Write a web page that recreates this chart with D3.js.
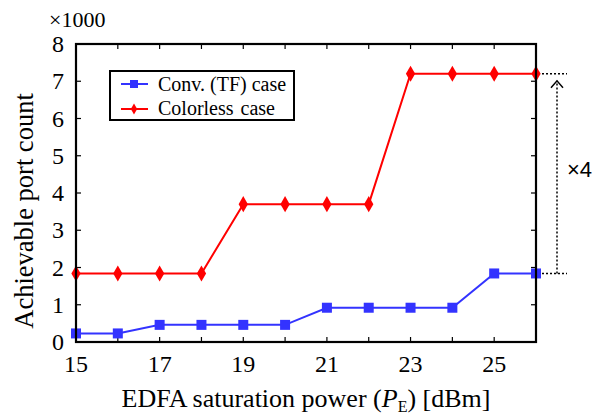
<!DOCTYPE html>
<html>
<head>
<meta charset="utf-8">
<script src="https://cdn.jsdelivr.net/npm/d3@7"></script>
<style>
  body { margin: 0; background: #fff; }
</style>
</head>
<body>
<svg width="597" height="415"></svg>
<script>
const power = [15, 16, 17, 18, 19, 20, 21, 22, 23, 24, 25, 26];
const convTF = [0.23, 0.23, 0.46, 0.46, 0.46, 0.46, 0.92, 0.92, 0.92, 0.92, 1.84, 1.84];
const colorless = [1.84, 1.84, 1.84, 1.84, 3.7, 3.7, 3.7, 3.7, 7.2, 7.2, 7.2, 7.2];
const xTickLabels = [15, 17, 19, 21, 23, 25];
const yTickLabels = [0, 1, 2, 3, 4, 5, 6, 7, 8];

const serif = "'Liberation Serif', 'Times New Roman', Times, serif";
const svg = d3.select("svg").attr("font-family", serif).style("font-family", serif);
const pLeft = 76, pRight = 536, pTop = 44, pBottom = 342;

const x = d3.scaleLinear().domain([15, 26]).range([pLeft, pRight]);
const y = d3.scaleLinear().domain([0, 8]).range([pBottom, pTop]);

// inward ticks on all four sides
const ticks = svg.append("g").attr("stroke", "#000").attr("stroke-width", 1.2);
power.forEach(p => {
  ticks.append("line").attr("x1", x(p)).attr("x2", x(p)).attr("y1", pBottom).attr("y2", pBottom - 5);
  ticks.append("line").attr("x1", x(p)).attr("x2", x(p)).attr("y1", pTop).attr("y2", pTop + 5);
});
yTickLabels.forEach(v => {
  ticks.append("line").attr("x1", pLeft).attr("x2", pLeft + 5).attr("y1", y(v)).attr("y2", y(v));
  ticks.append("line").attr("x1", pRight).attr("x2", pRight - 5).attr("y1", y(v)).attr("y2", y(v));
});

// tick labels
svg.append("g").selectAll("text")
    .data(xTickLabels)
    .enter().append("text")
    .attr("x", d => x(d))
    .attr("y", 372)
    .attr("text-anchor", "middle")
    .style("font-size", "24px")
    .text(d => d);

svg.append("g").selectAll("text")
    .data(yTickLabels)
    .enter().append("text")
    .attr("x", 64)
    .attr("y", d => y(d) + 8)
    .attr("text-anchor", "end")
    .style("font-size", "24px")
    .text(d => d);

svg.append("text")
    .attr("x", 49).attr("y", 27)
    .style("font-size", "22px")
    .text("×1000");

// lines and markers
const line = d3.line().x((d, i) => x(power[i])).y(d => y(d));

svg.append("path").datum(convTF)
    .attr("d", line).attr("fill", "none")
    .attr("stroke", "#3333ff").attr("stroke-width", 2);
svg.append("path").datum(colorless)
    .attr("d", line).attr("fill", "none")
    .attr("stroke", "#ff0000").attr("stroke-width", 2);

svg.append("g").selectAll("rect")
    .data(convTF)
    .enter().append("rect")
    .attr("x", (d, i) => x(power[i]) - 5)
    .attr("y", d => y(d) - 5)
    .attr("width", 10).attr("height", 10)
    .attr("fill", "#3333ff");

const diamond = d3.symbol().type(d3.symbolDiamond).size(75);
svg.append("g").selectAll("path")
    .data(colorless)
    .enter().append("path")
    .attr("d", diamond)
    .attr("transform", (d, i) => `translate(${x(power[i])},${y(d)})`)
    .attr("fill", "#ff0000");

// frame
svg.append("rect")
    .attr("x", pLeft).attr("y", pTop)
    .attr("width", pRight - pLeft).attr("height", pBottom - pTop)
    .attr("fill", "none").attr("stroke", "#000").attr("stroke-width", 2.2);

// axis titles
const xTitle = svg.append("text")
    .attr("x", 306).attr("y", 407)
    .attr("text-anchor", "middle")
    .style("font-size", "26px");
xTitle.append("tspan").text("EDFA saturation power (");
xTitle.append("tspan").style("font-style", "italic").text("P");
xTitle.append("tspan").attr("dy", 5).style("font-size", "16px").text("E");
xTitle.append("tspan").attr("dy", -5).text(") [dBm]");

svg.append("text")
    .attr("transform", "translate(33,211) rotate(-90)")
    .attr("text-anchor", "middle")
    .style("font-size", "26.5px")
    .text("Achievable port count");

// legend
const legend = svg.append("g");
legend.append("rect")
    .attr("x", 110).attr("y", 71).attr("width", 184).attr("height", 49)
    .attr("fill", "#fff").attr("stroke", "#000").attr("stroke-width", 2);
legend.append("line").attr("x1", 121).attr("x2", 148).attr("y1", 84).attr("y2", 84)
    .attr("stroke", "#3333ff").attr("stroke-width", 2);
legend.append("rect").attr("x", 130).attr("y", 80).attr("width", 8).attr("height", 8).attr("fill", "#3333ff");
legend.append("text").attr("x", 158).attr("y", 91).style("font-size", "20px").text("Conv. (TF) case");
legend.append("line").attr("x1", 121).attr("x2", 148).attr("y1", 109).attr("y2", 109)
    .attr("stroke", "#ff0000").attr("stroke-width", 2);
legend.append("path").attr("d", d3.symbol().type(d3.symbolDiamond).size(35))
    .attr("transform", "translate(134,109)").attr("fill", "#ff0000");
legend.append("text").attr("x", 158).attr("y", 115).style("font-size", "20px")
    .style("word-spacing", "2px").text("Colorless case");

// x4 annotation
const ann = svg.append("g").attr("stroke", "#000").attr("stroke-width", 1.5)
    .attr("stroke-dasharray", "2,2").attr("fill", "none");
const yHi = y(colorless[colorless.length - 1]);
const yLo = y(convTF[convTF.length - 1]);
ann.append("line").attr("x1", pRight + 6).attr("x2", 567).attr("y1", yHi).attr("y2", yHi);
ann.append("line").attr("x1", pRight + 6).attr("x2", 567).attr("y1", yLo).attr("y2", yLo);
ann.append("line").attr("x1", 557).attr("x2", 557).attr("y1", yLo).attr("y2", yHi + 7);
svg.append("path")
    .attr("d", `M551,${yHi + 14}L557,${yHi + 7}L563,${yHi + 14}`)
    .attr("fill", "none").attr("stroke", "#000").attr("stroke-width", 1.5);
svg.append("text")
    .attr("x", 567).attr("y", 177)
    .style("font-family", "'Liberation Sans', Arial, sans-serif")
    .style("font-size", "22px")
    .text("×4");
</script>
</body>
</html>
